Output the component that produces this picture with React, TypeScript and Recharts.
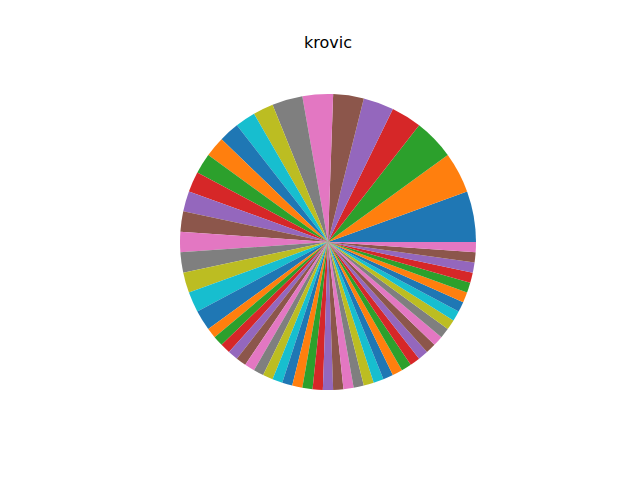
import { PieChart, Pie, Cell } from "recharts";

// slice labels are not shown in the chart, so just number them
const sliceValues = [
  5, 4, 4, 3, 3, 3, 3, 3,
  2, 2, 2, 2, 2, 2, 2, 2, 2, 2, 2, 2, 2,
  1, 1, 1, 1, 1, 1, 1, 1, 1, 1, 1, 1, 1, 1, 1, 1, 1, 1, 1, 1,
  1, 1, 1, 1, 1, 1, 1, 1, 1, 1, 1, 1, 1, 1, 1, 1,
];
const categories = sliceValues.map((_, i) => `item ${i + 1}`);

const tab10 = [
  "#1f77b4", "#ff7f0e", "#2ca02c", "#d62728", "#9467bd",
  "#8c564b", "#e377c2", "#7f7f7f", "#bcbd22", "#17becf",
];

const data = categories.map((name, i) => ({ name, value: sliceValues[i] }));

export default function App() {
  return (
    <div
      style={{
        position: "absolute",
        left: 0,
        top: 0,
        width: 640,
        height: 480,
        background: "#fff",
        fontFamily: "DejaVu Sans",
      }}
    >
      <div
        style={{
          position: "absolute",
          top: 33,
          left: 0,
          width: 656,
          textAlign: "center",
          fontSize: 16,
          color: "#000",
        }}
      >
        krovic
      </div>
      <PieChart width={640} height={480} margin={{ top: 0, right: 0, bottom: 0, left: 0 }}>
        <Pie
          data={data}
          dataKey="value"
          nameKey="name"
          cx={328}
          cy={242}
          outerRadius={148}
          startAngle={0}
          endAngle={360}
          stroke="none"
          isAnimationActive={false}
        >
          {data.map((d, i) => (
            <Cell key={d.name} fill={tab10[i % 10]} />
          ))}
        </Pie>
      </PieChart>
    </div>
  );
}
